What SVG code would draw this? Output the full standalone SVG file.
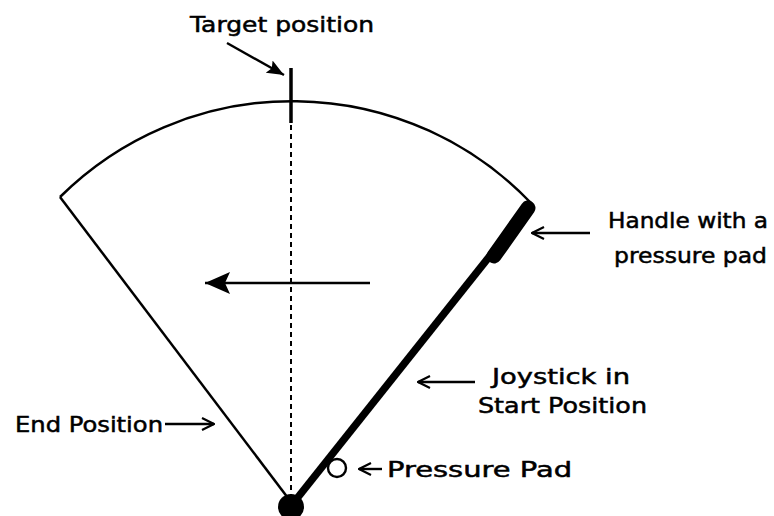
<svg xmlns="http://www.w3.org/2000/svg" width="774" height="516" viewBox="0 0 774 516">
<defs>
<style>
.t{font-family:"DejaVu Sans","Liberation Sans",sans-serif;font-size:21px;fill:#000;stroke:#000;stroke-width:0.5}
.ln{stroke:#000;fill:none;stroke-width:2.5}
.ar{stroke:#000;fill:none;stroke-width:2.4}
</style>
<marker id="open" viewBox="0 0 14 14" refX="13" refY="7" markerWidth="14" markerHeight="14" markerUnits="userSpaceOnUse" orient="auto">
<path d="M1,1 L13,7 L1,13" fill="none" stroke="#000" stroke-width="2.2"/>
</marker>
<marker id="solid" viewBox="0 0 18 16" refX="17" refY="8" markerWidth="18" markerHeight="16" markerUnits="userSpaceOnUse" orient="auto">
<path d="M0,1 L17,8 L0,15 L3,8 Z" fill="#000"/>
</marker>
<marker id="big" viewBox="0 0 26 22" refX="25" refY="11" markerWidth="26" markerHeight="22" markerUnits="userSpaceOnUse" orient="auto">
<path d="M0,0 L25,11 L0,22 L5,11 Z" fill="#000"/>
</marker>
</defs>
<g id="sector">
<path class="ln" d="M60,197 A330,330 0 0 1 531,203"/>
<line class="ln" x1="60" y1="197" x2="291" y2="502"/>
<line x1="291" y1="125" x2="291" y2="496" stroke="#000" stroke-width="2" stroke-dasharray="5,4"/>
</g>
<g id="target">
<line x1="291" y1="68" x2="291" y2="123" stroke="#000" stroke-width="3.5"/>
</g>
<g id="joystick">
<line x1="291" y1="506" x2="520" y2="218" stroke="#000" stroke-width="7.5"/>
<line x1="494" y1="256" x2="528" y2="208" stroke="#000" stroke-width="15" stroke-linecap="round"/>
<circle cx="291" cy="507" r="13" fill="#000"/>
<circle cx="337" cy="468" r="9" fill="#fff" stroke="#000" stroke-width="2.4"/>
</g>
<g id="connectors">
<line class="ar" x1="227" y1="43" x2="284" y2="75" marker-end="url(#solid)"/>
<line class="ar" x1="370" y1="283" x2="205" y2="283" marker-end="url(#big)"/>
<line class="ar" x1="590" y1="233" x2="532" y2="233" marker-end="url(#open)"/>
<line class="ar" x1="475" y1="382" x2="418" y2="382" marker-end="url(#open)"/>
<line class="ar" x1="382" y1="469" x2="359" y2="469" marker-end="url(#open)"/>
<line class="ar" x1="165" y1="424" x2="214" y2="424" marker-end="url(#open)"/>
</g>
<g id="labels">
<text class="t" x="190" y="32" textLength="184" lengthAdjust="spacingAndGlyphs">Target position</text>
<text class="t" x="608" y="228" textLength="160" lengthAdjust="spacingAndGlyphs">Handle with a</text>
<text class="t" x="614" y="263" textLength="153" lengthAdjust="spacingAndGlyphs">pressure pad</text>
<text class="t" x="492" y="384" textLength="138" lengthAdjust="spacingAndGlyphs">Joystick in</text>
<text class="t" x="478" y="413" textLength="169" lengthAdjust="spacingAndGlyphs">Start Position</text>
<text class="t" x="387" y="477" textLength="185" lengthAdjust="spacingAndGlyphs">Pressure Pad</text>
<text class="t" x="15" y="432" textLength="148" lengthAdjust="spacingAndGlyphs">End Position</text>
</g>
</svg>
